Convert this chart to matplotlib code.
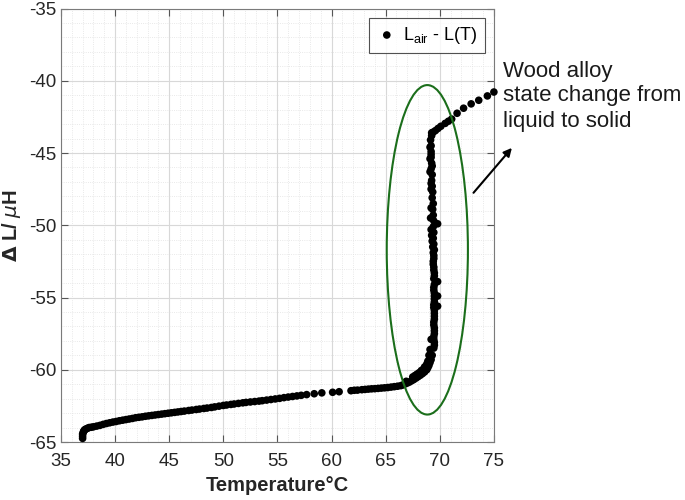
import numpy as np
import matplotlib.pyplot as plt
from matplotlib.patches import Ellipse
from matplotlib.ticker import MultipleLocator

plt.rcParams['font.family'] = ['Liberation Sans', 'DejaVu Sans']
plt.rcParams['mathtext.fontset'] = 'dejavusans'
plt.rcParams['axes.unicode_minus'] = False

# temperature (deg C) and delta L (uH)
T_cool = [37.0, 37.0, 37.0, 37.05, 37.1, 37.15, 37.2, 37.3, 37.45, 37.6, 37.8, 38.0,
          38.3, 38.6, 38.9, 39.2, 39.5, 39.8, 40.1, 40.4, 40.7, 41.0, 41.3, 41.6,
          41.9, 42.2, 42.5, 42.8, 43.1, 43.4, 43.7, 44.0, 44.3, 44.6, 44.9, 45.2,
          45.5, 45.8, 46.1, 46.4, 46.8, 47.1, 47.5, 47.8, 48.2, 48.5, 48.9, 49.2,
          49.6, 50.0, 50.3, 50.7, 51.0, 51.4, 51.8, 52.1, 52.5, 52.9, 53.3, 53.6,
          54.0, 54.4, 54.8, 55.2, 55.6, 56.0, 56.4, 56.8, 57.2, 57.7, 58.4, 59.1,
          60.1, 60.7, 61.8, 62.1, 62.4, 62.8, 63.1, 63.4, 63.7, 64.0, 64.3, 64.6,
          64.9, 65.2, 65.5, 65.8, 66.1, 66.4, 66.6, 66.8, 67.0, 67.2, 67.4, 67.6,
          67.8, 68.0, 68.2, 68.4, 68.6, 68.8, 68.9, 69.0, 69.1, 69.2, 69.3,
          67.5, 67.9, 68.3, 68.6, 68.9, 69.0, 69.1, 66.9, 67.7, 68.1, 68.5, 68.8]
dL_cool = [-64.75, -64.6, -64.45, -64.35, -64.25, -64.2, -64.15, -64.1, -64.05, -64.0, -63.98, -63.95,
           -63.9, -63.85, -63.78, -63.72, -63.67, -63.62, -63.58, -63.53, -63.49, -63.45, -63.41, -63.37,
           -63.32, -63.29, -63.26, -63.22, -63.19, -63.16, -63.13, -63.1, -63.07, -63.04, -63.01, -62.98,
           -62.95, -62.92, -62.89, -62.86, -62.82, -62.79, -62.75, -62.72, -62.68, -62.65, -62.61, -62.57,
           -62.52, -62.47, -62.44, -62.4, -62.37, -62.33, -62.29, -62.26, -62.23, -62.2, -62.17, -62.14,
           -62.1, -62.06, -62.02, -61.98, -61.93, -61.89, -61.85, -61.81, -61.77, -61.72, -61.66, -61.6,
           -61.56, -61.52, -61.45, -61.42, -61.41, -61.38, -61.36, -61.34, -61.32, -61.31, -61.29, -61.27,
           -61.25, -61.23, -61.2, -61.17, -61.14, -61.1, -61.05, -60.98, -60.92, -60.85, -60.76, -60.68,
           -60.58, -60.48, -60.38, -60.27, -60.15, -60.0, -59.85, -59.7, -59.5, -59.3, -59.0,
           -60.5, -60.3, -60.05, -59.8, -59.4, -59.0, -58.6, -60.8, -60.4, -60.2, -59.95, -59.6]

# the jump while the alloy solidifies
T_jump = [69.45, 69.5, 69.2, 69.45, 69.5, 69.45, 69.5, 69.5, 69.45, 69.8, 69.5, 69.8,
          69.5, 69.45, 69.8, 69.5, 69.45, 69.5, 69.45, 69.4, 69.45, 69.5, 69.45, 69.4,
          69.45, 69.8, 69.4, 69.45, 69.2, 69.4, 69.35, 69.4, 69.3, 69.35, 69.2, 69.3,
          69.25, 69.1, 69.3, 69.2, 69.1, 69.25, 69.2, 69.1, 69.2, 69.15, 69.2, 69.25,
          69.5, 69.45, 69.5, 69.5, 69.45, 69.5, 69.5, 69.45, 69.5, 69.5, 69.45, 69.5,
          69.45, 69.4, 69.45, 69.4, 69.35, 69.3, 69.25, 69.2, 69.15, 69.2, 69.3, 69.2]
dL_jump = [-58.5, -58.1, -57.9, -57.7, -57.3, -56.9, -56.5, -56.1, -55.7, -55.6, -55.3, -54.9,
           -54.9, -54.5, -53.9, -54.1, -53.7, -53.3, -52.9, -52.5, -52.1, -51.7, -51.3, -50.9,
           -50.5, -49.9, -50.1, -49.7, -48.8, -49.3, -48.9, -48.5, -48.1, -47.7, -47.1, -47.3,
           -46.9, -46.3, -46.5, -46.1, -45.4, -45.7, -45.3, -44.6, -44.9, -44.1, -44.5, -43.8,
           -58.3, -57.9, -57.5, -57.1, -56.7, -56.3, -55.9, -55.5, -55.1, -54.7, -54.3, -53.5,
           -53.1, -52.7, -52.3, -51.9, -51.5, -51.1, -50.7, -50.3, -49.5, -47.5, -45.9, -45.1]

# after the jump
T_top = [69.25, 69.4, 69.6, 69.84, 70.1, 70.5, 70.8, 71.1, 71.6, 72.2, 72.9, 73.6, 74.4, 75.0]
dL_top = [-43.6, -43.55, -43.45, -43.3, -43.15, -42.95, -42.8, -42.65, -42.25, -41.9, -41.6,
          -41.35, -41.05, -40.78]

T = T_cool + T_jump + T_top
dL = dL_cool + dL_jump + dL_top

fig = plt.figure(figsize=(6.85, 5.0), dpi=100)
ax = fig.add_axes([0.089, 0.116, 0.632, 0.867])

ax.scatter(T, dL, s=30, c='k', edgecolors='none', label=r'L$_{\mathregular{air}}$ - L(T)',
           zorder=3, clip_on=False)

ell = Ellipse((68.85, -51.7), 7.5, 22.8, fill=False, edgecolor='#1b6e1b', linewidth=1.5, zorder=4)
ax.add_patch(ell)

ax.set_xlim(35, 75)
ax.set_ylim(-65, -35)
ax.xaxis.set_major_locator(MultipleLocator(5))
ax.yaxis.set_major_locator(MultipleLocator(5))
ax.xaxis.set_minor_locator(MultipleLocator(1))
ax.yaxis.set_minor_locator(MultipleLocator(1))
ax.grid(which='major', color='#d8d8d8', linewidth=0.8)
ax.grid(which='minor', color='#e2e2e2', linewidth=0.6, linestyle=':')
ax.set_axisbelow(True)
ax.tick_params(which='both', direction='in', top=True, right=True, colors='#555555',
               labelcolor='#262626', labelsize=13.5)
ax.tick_params(which='major', length=5)
ax.tick_params(axis='x', which='major', pad=8)
ax.tick_params(which='minor', length=0)
for s in ax.spines.values():
    s.set_color('#7a7a7a')

ax.set_xlabel('Temperature°C', fontsize=14.5, fontweight='bold', color='#262626', labelpad=4)
ax.set_ylabel(r'$\mathbf{\Delta}$ L/ $\mu$H', fontsize=14.5, fontweight='bold', color='#262626')

leg = ax.legend(loc='upper right', fontsize=13, frameon=True, fancybox=False,
                handletextpad=0.3, handlelength=1.2, borderpad=0.4)
leg.get_frame().set_edgecolor('#262626')
leg.get_frame().set_linewidth(0.8)

fig.text(0.735, 0.879, 'Wood alloy\nstate change from\nliquid to solid', fontsize=16,
         va='top', ha='left', color='#1a1a1a', linespacing=1.25)

ax.annotate('', xy=(76.83, -44.5), xytext=(72.95, -47.9), xycoords='data',
            arrowprops=dict(arrowstyle='-|>', color='k', lw=1.5, mutation_scale=12),
            annotation_clip=False)

fig.savefig('out.png', dpi=100)
